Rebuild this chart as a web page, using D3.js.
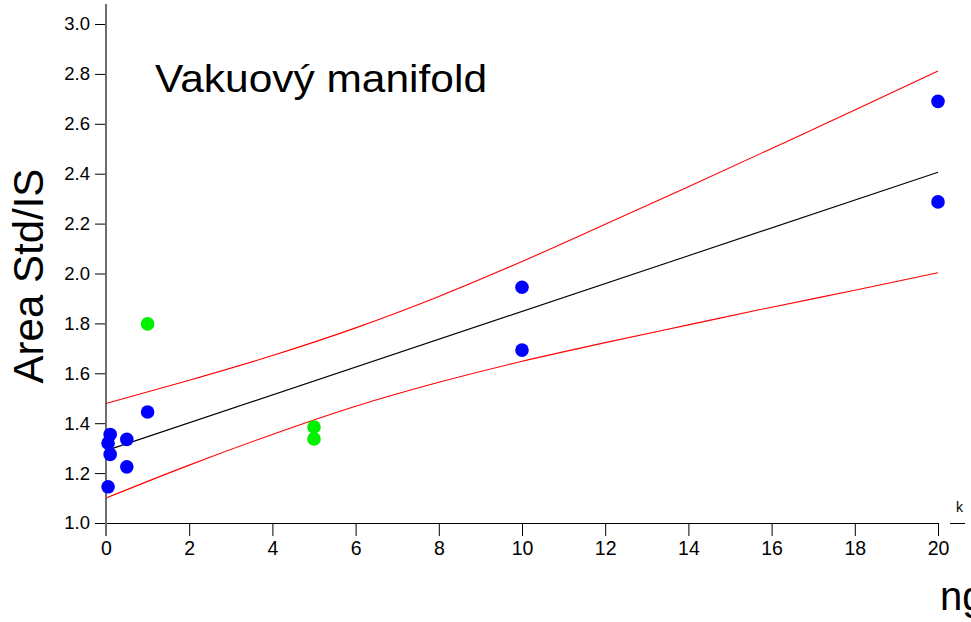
<!DOCTYPE html>
<html>
<head>
<meta charset="utf-8">
<script src="https://cdn.jsdelivr.net/npm/d3@7/dist/d3.min.js"></script>
<style>
  html, body { margin: 0; padding: 0; background: #fff; }
  svg { display: block; font-family: "Liberation Sans", Arial, sans-serif; }
</style>
</head>
<body>
<svg id="chart" width="971" height="622"></svg>
<script>
// Calibration points: concentration (ng) vs. area ratio Std/IS
const blueX = [0.05, 0.05, 0.1, 0.1, 0.5, 0.5, 1, 10, 10, 20, 20];
const blueY = [1.145, 1.32, 1.355, 1.275, 1.335, 1.225, 1.445, 1.945, 1.693, 2.69, 2.287];
const greenX = [1, 5, 5];
const greenY = [1.798, 1.385, 1.337];

// Linear fit and its confidence band
const fitX = [0, 20];
const fitY = [1.29, 2.406];
const bandX = [0, 2, 4, 6, 8, 10, 12, 14, 16, 18, 20];
const bandUpper = [1.479, 1.572, 1.671, 1.782, 1.908, 2.048, 2.197, 2.348, 2.501, 2.655, 2.812];
const bandLower = [1.100, 1.232, 1.355, 1.468, 1.564, 1.648, 1.723, 1.794, 1.865, 1.933, 2.003];

// Axis ticks
const xTicks = [0, 2, 4, 6, 8, 10, 12, 14, 16, 18, 20];
const yTicks = [1.0, 1.2, 1.4, 1.6, 1.8, 2.0, 2.2, 2.4, 2.6, 2.8, 3.0];

const svg = d3.select("#chart");
const x = d3.scaleLinear().domain([0, 20]).range([106, 938]);
const y = d3.scaleLinear().domain([1, 3]).range([523, 24]);

// Bottom axis
const xAxis = d3.axisBottom(x).tickValues(xTicks).tickFormat(d3.format("d"))
  .tickSizeInner(13).tickSizeOuter(0).tickPadding(5);
const gx = svg.append("g").attr("transform", "translate(0,523)").call(xAxis);
gx.select(".domain").attr("stroke", "#000").attr("stroke-width", 1);
gx.selectAll(".tick line").attr("stroke", "#000").attr("stroke-width", 1);
gx.selectAll(".tick text").attr("font-size", 19.5).attr("fill", "#000")
  .attr("font-family", "Liberation Sans, Arial, sans-serif");

// Left axis
const yAxis = d3.axisLeft(y).tickValues(yTicks).tickFormat(d3.format(".1f"))
  .tickSizeInner(11).tickSizeOuter(0).tickPadding(5);
const gy = svg.append("g").attr("transform", "translate(106,0)").call(yAxis);
gy.select(".domain").remove();
gy.selectAll(".tick line").attr("stroke", "#000").attr("stroke-width", 1);
gy.selectAll(".tick text").attr("font-size", 18.5).attr("fill", "#000")
  .attr("font-family", "Liberation Sans, Arial, sans-serif");
gy.append("line")
  .attr("x1", 0).attr("x2", 0).attr("y1", 4).attr("y2", 536)
  .attr("stroke", "#6e6e6e").attr("stroke-width", 2);

// Fragment of a neighbouring axis at the right edge
svg.append("line").attr("x1", 950).attr("x2", 965).attr("y1", 523.5).attr("y2", 523.5)
  .attr("stroke", "#000").attr("stroke-width", 1);
svg.append("text").attr("x", 956).attr("y", 512).attr("font-size", 14).text("k");

// Confidence band and fit line
const bandLine = (vals) => d3.line()
  .x((d, i) => x(bandX[i])).y(d => y(d)).curve(d3.curveMonotoneX)(vals);
svg.append("path").attr("d", bandLine(bandUpper))
  .attr("fill", "none").attr("stroke", "#ff0000").attr("stroke-width", 1.1);
svg.append("path").attr("d", bandLine(bandLower))
  .attr("fill", "none").attr("stroke", "#ff0000").attr("stroke-width", 1.1);
svg.append("path")
  .attr("d", d3.line().x((d, i) => x(fitX[i])).y(d => y(d))(fitY))
  .attr("fill", "none").attr("stroke", "#000").attr("stroke-width", 1.1);

// Data points
svg.append("g").selectAll("circle").data(blueY).join("circle")
  .attr("cx", (d, i) => x(blueX[i])).attr("cy", d => y(d)).attr("r", 6.8)
  .attr("fill", "#0000ff");
svg.append("g").selectAll("circle").data(greenY).join("circle")
  .attr("cx", (d, i) => x(greenX[i])).attr("cy", d => y(d)).attr("r", 6.8)
  .attr("fill", "#00f000");

// Labels
svg.append("text").attr("x", 155).attr("y", 92).attr("font-size", 38)
  .attr("textLength", 332).attr("lengthAdjust", "spacingAndGlyphs")
  .text("Vakuový manifold");
svg.append("text")
  .attr("transform", "translate(43,276) rotate(-90)")
  .attr("text-anchor", "middle").attr("font-size", 42)
  .text("Area Std/IS");
svg.append("text").attr("x", 940).attr("y", 610).attr("font-size", 40).text("ng");
</script>
</body>
</html>
